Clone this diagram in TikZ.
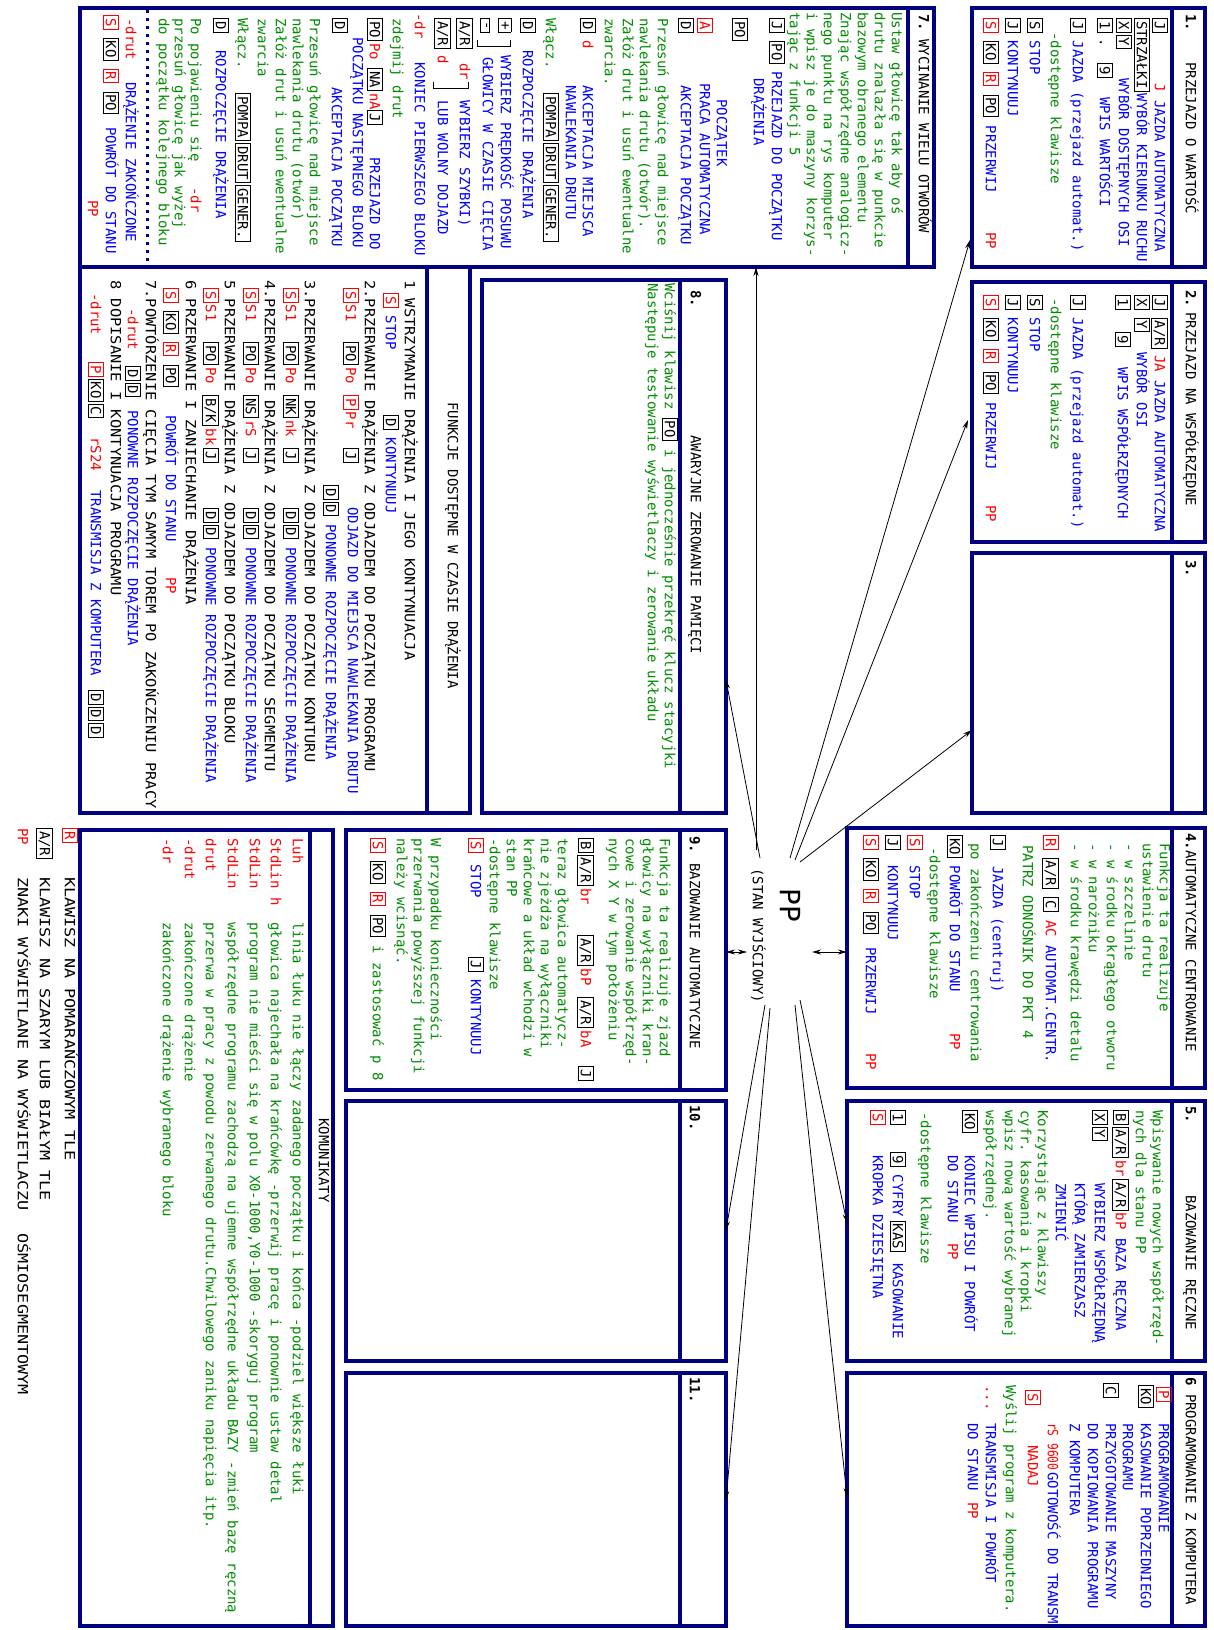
\documentclass[tikz,border=0pt]{standalone}
\usepackage{fontspec}
\setmonofont{DejaVu Sans Mono}
\newfontfamily\widemono[FakeStretch=1.1]{DejaVu Sans Mono}
\newfontfamily\widermono[FakeStretch=1.2]{DejaVu Sans Mono}
\newfontfamily\narrowmono[FakeStretch=0.8]{DejaVu Sans Mono}
\usepackage{xcolor}
\usepackage{tikz}
\usetikzlibrary{arrows.meta}

\definecolor{panelblue}{RGB}{0,0,128}
\definecolor{keyred}{RGB}{255,0,0}
\definecolor{txtblue}{RGB}{0,0,255}
\definecolor{txtgreen}{RGB}{0,140,0}

\newcommand{\keyb}[1]{{\setlength{\fboxsep}{2pt}\setlength{\fboxrule}{0.9pt}\fbox{#1}}}
\newcommand{\keyr}[1]{{\color{keyred}\setlength{\fboxsep}{2pt}\setlength{\fboxrule}{0.9pt}\fbox{#1}}}
\newcommand{\blu}[1]{\textcolor{txtblue}{#1}}
\newcommand{\grn}[1]{\textcolor{txtgreen}{#1}}
\newcommand{\rdd}[1]{\textcolor{keyred}{#1}}

\tikzset{
  panel/.style={draw=panelblue, line width=3.5pt},
  txt/.style={anchor=mid west, inner sep=0pt, font=\ttfamily\fontsize{14}{16}\selectfont},
  wtxt/.style={txt, font=\widemono\fontsize{14}{16}\selectfont},
  wwtxt/.style={txt, font=\widermono\fontsize{14}{16}\selectfont},
  ntxt/.style={txt, font=\narrowmono\fontsize{14}{16}\selectfont},
  conn/.style={-{Stealth[length=9pt,width=5pt]}, line width=0.8pt},
  dconn/.style={{Stealth[length=9pt,width=5pt]}-{Stealth[length=9pt,width=5pt]}, line width=0.8pt},
}

\begin{document}
\begin{tikzpicture}[x=1pt,y=1pt]
\useasboundingbox (0,0) rectangle (1213,-1630);
\fill[white] (0,0) rectangle (1213,-1630);
\begin{scope}[rotate=-90, transform shape]

% Panels of the right column
\foreach \ya/\yb/\xa in {8/267/972, 282/542/972, 553/813/972, 828/1088/847, 1101/1361/847, 1373/1626/847} {
  \draw[panel] (\ya,\xa) rectangle (\yb,1205);
  \draw[panel] (\ya,1172) -- (\yb,1172);
}
% Panels of the middle column
\foreach \ya/\yb/\xa in {830/1090/346, 1101/1361/346, 1373/1626/346} {
  \draw[panel] (\ya,\xa) rectangle (\yb,726);
  \draw[panel] (\ya,680) -- (\yb,680);
}
\draw[panel] (280,482) rectangle (813,726);
\draw[panel] (280,680) -- (813,680);
% Box 7 and the list of functions
\draw[panel] (8,80) rectangle (267,934);
\draw[panel] (8,908) -- (267,908);
\draw[panelblue, line width=3pt, dash pattern=on 3pt off 5pt] (10,147) -- (265,147);
\draw[panel] (267,80) rectangle (813,470);
\draw[panel] (267,427) -- (813,427);
% Messages
\draw[panel] (830,80) rectangle (1626,333);
\draw[panel] (830,310) -- (1626,310);

% ---------- 1. PRZEJAZD O WARTOSC
\node[txt] (t1n) at (14,1188) {\textbf{1.}};
\node[txt] (t1) at (62,1188) {PRZEJAZD O WARTOŚĆ};
\node[txt] (b1a) at (18,1157) {\keyb{J}};
\node[txt] (b1b) at (83,1157) {\rdd{J} \blu{JAZDA AUTOMATYCZNA}};
\node[txt] (b1c) at (18,1139) {\keyb{STRZAŁKI}\,\blu{WYBÓR KIERUNKU RUCHU}};
\node[txt] (b1d) at (18,1121) {\keyb{X}\,\keyb{Y}};
\node[txt] (b1e) at (78,1121) {\blu{WYBÓR DOSTĘPNYCH OSI}};
\node[txt] (b1f) at (18,1102) {\keyb{1}};
\node[txt] (b1g) at (38,1102) {.};
\node[txt] (b1h) at (63,1102) {\keyb{9}};
\node[txt] (b1i) at (97,1102) {\blu{WPIS WARTOŚCI}};
\node[txt] (b1j) at (18,1075) {\keyb{J} \blu{JAZDA (przejazd automat.)}};
\node[txt] (b1k) at (32,1053) {\grn{-dostępne klawisze}};
\node[txt] (b1l) at (18,1032) {\keyb{S} \blu{STOP}};
\node[txt] (b1m) at (18,1010) {\keyb{J} \blu{KONTYNUUJ}};
\node[txt] (b1n) at (18,988) {\keyr{S} \keyb{KO} \keyr{R} \keyb{PO} \blu{PRZERWIJ}};
\node[txt] (b1o) at (232,988) {\rdd{PP}};

% ---------- 2. PRZEJAZD NA WSPOLRZEDNE
\node[txt] (t2n) at (290,1188) {\textbf{2.}};
\node[txt] (t2) at (312,1188) {PRZEJAZD NA WSPÓŁRZĘDNE};
\node[txt] (b2a) at (295,1157) {\keyb{J} \keyb{A/R}};
\node[txt] (b2b) at (355,1157) {\rdd{JA} \blu{JAZDA AUTOMATYCZNA}};
\node[txt] (b2c) at (295,1139) {\keyb{X} \keyb{Y}};
\node[txt] (b2d) at (352,1139) {\blu{WYBÓR OSI}};
\node[txt] (b2e) at (295,1120) {\keyb{1}};
\node[txt] (b2f) at (332,1120) {\keyb{9}};
\node[txt] (b2g) at (367,1120) {\blu{WPIS WSPÓŁRZĘDNYCH}};
\node[txt] (b2h) at (295,1075) {\keyb{J} \blu{JAZDA (przejazd automat.)}};
\node[txt] (b2i) at (298,1053) {\grn{-dostępne klawisze}};
\node[txt] (b2j) at (295,1032) {\keyb{S} \blu{STOP}};
\node[txt] (b2k) at (295,1010) {\keyb{J} \blu{KONTYNUUJ}};
\node[txt] (b2l) at (295,988) {\keyr{S} \keyb{KO} \keyr{R} \keyb{PO} \blu{PRZERWIJ}};
\node[txt] (b2m) at (505,988) {\rdd{PP}};

% ---------- 3.
\node[txt] (t3n) at (560,1188) {\textbf{3.}};

% ---------- 4. AUTOMATYCZNE CENTROWANIE
\node[txt] (t4) at (833,1188) {\textbf{4.}AUTOMATYCZNE CENTROWANIE};
\node[txt] (b4a) at (843,1162) {\grn{Funkcja ta realizuje}};
\node[txt] (b4b) at (843,1145) {\grn{ustawienie drutu}};
\node[txt] (b4c) at (843,1127) {\grn{- w szczelinie}};
\node[txt] (b4d) at (843,1109) {\grn{- w środku okrągłego otworu}};
\node[txt] (b4e) at (843,1091) {\grn{- w narożniku}};
\node[txt] (b4f) at (843,1073) {\grn{- w środku krawędzi detalu}};
\node[txt] (b4g) at (835,1048) {\keyr{R} \keyb{A/R} \keyb{C} \rdd{AC} \blu{AUTOMAT.CENTR.}};
\node[txt] (b4h) at (845,1025) {\grn{PATRZ ODNOŚNIK DO PKT 4}};
\node[txt] (b4i) at (835,995) {\keyb{J}\hspace{17pt}\blu{JAZDA (centruj)}};
\node[txt] (b4j) at (843,973) {\grn{po zakończeniu centrowania}};
\node[txt] (b4k) at (835,952) {\keyb{KO}\hspace{8pt}\blu{POWRÓT DO STANU}};
\node[txt] (b4l) at (1033,952) {\rdd{PP}};
\node[txt] (b4m) at (847,932) {\grn{-dostępne klawisze}};
\node[txt] (b4n) at (835,912) {\keyr{S}\hspace{16pt}\blu{STOP}};
\node[txt] (b4o) at (835,890) {\keyb{J}\hspace{16pt}\blu{KONTYNUUJ}};
\node[txt] (b4p) at (835,868) {\keyr{S} \keyb{KO} \keyr{R} \keyb{PO}\hspace{13pt}\blu{PRZERWIJ}};
\node[txt] (b4q) at (1053,868) {\rdd{PP}};

% ---------- 5. BAZOWANIE RECZNE
\node[txt] (t5n) at (1106,1188) {\textbf{5.}};
\node[txt] (t5) at (1195,1188) {BAZOWANIE RĘCZNE};
\node[txt] (b5a) at (1110,1155) {\grn{Wpisywanie nowych współrzęd-}};
\node[txt] (b5b) at (1110,1138) {\grn{nych dla stanu PP}};
\node[txt] (b5c) at (1110,1118) {\keyb{B}\,\keyb{A/R}\,\rdd{br}\,\keyb{A/R}\,\rdd{bP} \blu{BAZA RĘCZNA}};
\node[txt] (b5d) at (1110,1097) {\keyb{X}\,\keyb{Y}};
\node[txt] (b5e) at (1183,1097) {\blu{WYBIERZ WSPÓŁRZĘDNĄ}};
\node[txt] (b5f) at (1183,1077) {\blu{KTÓRĄ ZAMIERZASZ}};
\node[txt] (b5g) at (1183,1058) {\blu{ZMIENIĆ}};
\node[txt] (b5h) at (1110,1040) {\grn{Korzystając z klawiszy}};
\node[txt] (b5i) at (1110,1023) {\grn{cyfr. kasowania i kropki}};
\node[txt] (b5j) at (1110,1007) {\grn{wpisz nową wartość wybranej}};
\node[txt] (b5k) at (1110,988) {\grn{współrzędnej.}};
\node[txt] (b5l) at (1110,967) {\keyb{KO}};
\node[txt] (b5m) at (1155,967) {\blu{KONIEC WPISU I POWRÓT}};
\node[txt] (b5n) at (1155,950) {\blu{DO STANU}};
\node[txt] (b5o) at (1243,950) {\rdd{PP}};
\node[txt] (b5p) at (1112,923) {\grn{-dostępne klawisze}};
\node[txt] (b5q) at (1110,895) {\keyb{1}};
\node[txt] (b5r) at (1152,895) {\keyb{9} \blu{CYFRY}\hspace{4pt}\keyb{KAS}\hspace{11pt}\blu{KASOWANIE}};
\node[txt] (b5s) at (1110,875) {\keyr{S}};
\node[txt] (b5t) at (1155,875) {\blu{KROPKA DZIESIĘTNA}};

% ---------- 6 PROGRAMOWANIE Z KOMPUTERA
\node[txt] (t6) at (1377,1188) {\textbf{6} PROGRAMOWANIE Z KOMPUTERA};
\node[txt] (b6a) at (1387,1161) {\keyr{P}};
\node[txt] (b6b) at (1423,1161) {\blu{PROGRAMOWANIE}};
\node[txt] (b6c) at (1385,1143) {\keyb{KO}};
\node[txt] (b6d) at (1423,1143) {\blu{KASOWANIE POPRZEDNIEGO}};
\node[txt] (b6e) at (1423,1125) {\blu{PROGRAMU}};
\node[txt] (b6f) at (1383,1108) {\keyb{C}};
\node[txt] (b6g) at (1423,1108) {\blu{PRZYGOTOWANIE MASZYNY}};
\node[txt] (b6h) at (1423,1090) {\blu{DO KOPIOWANIA PROGRAMU}};
\node[txt] (b6i) at (1423,1072) {\blu{Z KOMPUTERA}};
\node[ntxt] (b6j) at (1423,1050) {\rdd{rS 9600}};
\node[txt] (b6k) at (1472,1050) {\blu{GOTOWOŚĆ DO TRANSM}};
\node[txt] (b6l) at (1390,1030) {\keyr{S}};
\node[txt] (b6m) at (1445,1030) {\rdd{NADAJ}};
\node[txt] (b6n) at (1385,1008) {\grn{Wyślij program z komputera.}};
\node[txt] (b6o) at (1385,988) {\rdd{...}};
\node[txt] (b6p) at (1423,988) {\blu{TRANSMISJA I POWRÓT}};
\node[txt] (b6q) at (1423,970) {\blu{DO STANU}};
\node[txt] (b6r) at (1502,970) {\rdd{PP}};

% ---------- 7. WYCINANIE WIELU OTWOROW
\node[txt] (t7) at (14,921) {\textbf{7.} WYCINANIE WIELU OTWORÓW};
\node[txt] (b7a) at (12,894) {\grn{Ustaw głowicę tak aby oś}};
\node[txt] (b7b) at (12,877) {\grn{drutu znalazła się w punkcie}};
\node[txt] (b7c) at (12,860) {\grn{bazowym obranego elementu}};
\node[txt] (b7d) at (12,843) {\grn{Znając współrzędne analogicz-}};
\node[txt] (b7e) at (12,826) {\grn{nego punktu na rys komputer}};
\node[txt] (b7f) at (12,809) {\grn{i wpisz je do maszyny korzys-}};
\node[txt] (b7g) at (12,792) {\grn{tając z funkcji 5}};
\node[txt] (b7h) at (18,774) {\keyb{J} \keyb{PO} \blu{PRZEJAZD DO POCZĄTKU}};
\node[txt] (b7i) at (78,756) {\blu{DRĄŻENIA}};
\node[txt] (b7j) at (18,737) {\keyb{PO}};
\node[txt] (b7k) at (99,719) {\blu{POCZĄTEK}};
\node[txt] (b7l) at (18,702) {\keyr{A}};
\node[txt] (b7m) at (83,702) {\blu{PRACA AUTOMATYCZNA}};
\node[txt] (b7n) at (18,683) {\keyb{D}};
\node[txt] (b7o) at (85,683) {\blu{AKCEPTACJA POCZĄTKU}};
\node[txt] (b7p) at (18,660) {\grn{Przesuń głowicę nad miejsce}};
\node[txt] (b7q) at (18,642) {\grn{nawlekania drutu (otwór).}};
\node[txt] (b7r) at (18,625) {\grn{Załóż drut i usuń ewentualne}};
\node[txt] (b7s) at (18,607) {\grn{zwarcia.}};
\node[txt] (b7t) at (18,585) {\keyb{D} \rdd{d}};
\node[txt] (b7u) at (85,585) {\blu{AKCEPTACJA MIEJSCA}};
\node[txt] (b7v) at (85,568) {\blu{NAWLEKANIA DRUTU}};
\node[txt] (b7w) at (18,548) {\grn{Włącz.}};
\node[txt] (b7x) at (93,548) {\keyb{POMPA}\,\keyb{DRUT}\,\keyb{GENER.}};
\node[txt] (b7y) at (18,525) {\keyb{D}};
\node[txt] (b7z) at (50,525) {\blu{ROZPOCZĘCIE DRĄŻENIA}};
\node[txt] (b7aa) at (18,503) {\keyb{+}};
\node[txt] (b7ab) at (55,503) {\blu{WYBIERZ PRĘDKOŚĆ POSUWU}};
\node[txt] (b7ac) at (18,485) {\keyb{-}};
\node[txt] (b7ad) at (57,485) {\blu{GŁOWICY W CZASIE CIĘCIA}};
\draw[line width=0.8pt] (40,510) -- (46,510) -- (46,477) -- (40,477);
\node[txt] (b7ae) at (18,462) {\keyb{A/R}};
\node[txt] (b7af) at (63,462) {\rdd{dr}};
\node[txt] (b7ag) at (100,462) {\blu{WYBIERZ SZYBKI)}};
\node[txt] (b7ah) at (18,440) {\keyb{A/R}};
\node[txt] (b7ai) at (55,440) {\rdd{d}};
\node[txt] (b7aj) at (100,440) {\blu{LUB WOLNY DOJAZD}};
\draw[line width=0.8pt] (82,468) -- (88,468) -- (88,433) -- (82,433);
\node[txt] (b7ak) at (13,417) {\rdd{-dr}};
\node[txt] (b7al) at (62,417) {\blu{KONIEC PIERWSZEGO BLOKU}};
\node[txt] (b7am) at (18,395) {\grn{zdejmij drut}};
\node[txt] (b7an) at (18,372) {\keyb{PO}\,\rdd{Po} \keyb{NA}\,\rdd{nA}};
\node[txt] (b7ao) at (110,372) {\keyb{J}};
\node[txt] (b7ap) at (157,372) {\blu{PRZEJAZD DO}};
\node[txt] (b7aq) at (37,355) {\blu{POCZĄTKU NASTĘPNEGO BLOKU}};
\node[txt] (b7ar) at (18,337) {\keyb{D}};
\node[txt] (b7as) at (87,334) {\blu{AKCEPTACJA POCZĄTKU}};
\node[txt] (b7at) at (18,312) {\grn{Przesuń głowicę nad miejsce}};
\node[txt] (b7au) at (18,295) {\grn{nawlekania drutu (otwór)}};
\node[txt] (b7av) at (18,278) {\grn{Załóż drut i usuń ewentualne}};
\node[txt] (b7aw) at (18,260) {\grn{zwarcia}};
\node[txt] (b7ax) at (18,240) {\grn{Włącz.}};
\node[txt] (b7ay) at (93,240) {\keyb{POMPA}\,\keyb{DRUT}\,\keyb{GENER.}};
\node[txt] (b7az) at (18,218) {\keyb{D}};
\node[txt] (b7ba) at (50,218) {\blu{ROZPOCZĘCIE DRĄŻENIA}};
\node[txt] (b7bb) at (18,193) {\grn{Po pojawieniu się}};
\node[txt] (b7bc) at (187,193) {\rdd{-dr}};
\node[txt] (b7bd) at (18,177) {\grn{przesuń głowicę jak wyżej}};
\node[txt] (b7be) at (18,161) {\grn{do początku kolejnego bloku}};
\node[txt] (b7bf) at (18,128) {\rdd{-drut}};
\node[txt] (b7bg) at (82,128) {\blu{DRĄŻENIE ZAKOŃCZONE}};
\node[txt] (b7bh) at (15,108) {\keyr{S} \keyb{KO} \keyr{R} \keyb{PO}};
\node[txt] (b7bi) at (127,108) {\blu{POWRÓT DO STANU}};
\node[txt] (b7bj) at (200,90) {\rdd{PP}};

% ---------- Funkcje dostepne w czasie drazenia
\node[txt] (tf) at (402,450) {FUNKCJE DOSTĘPNE W CZASIE DRĄŻENIA};
\node[wtxt] (fa) at (280,407) {1 WSTRZYMANIE DRĄŻENIA I JEGO KONTYNUACJA};
\node[txt] (fb) at (293,388) {\keyr{S} \blu{STOP}};
\node[txt] (fc) at (415,388) {\keyb{D} \blu{KONTYNUUJ}};
\node[wtxt] (fd) at (280,367) {2.PRZERWANIE DRĄŻENIA Z ODJAZDEM DO POCZĄTKU PROGRAMU};
\node[txt] (fe) at (288,348) {\keyr{S}\,\rdd{S1}};
\node[txt] (ff) at (342,348) {\keyb{PO}\,\rdd{Po}};
\node[txt] (fg) at (395,348) {\keyr{P}\,\rdd{Pr}};
\node[txt] (fh) at (448,348) {\keyb{J}};
\node[txt] (fi) at (507,350) {\blu{ODJAZD DO MIEJSCA NAWLEKANIA DRUTU}};
\node[txt] (fj) at (485,328) {\keyb{D}\,\keyb{D} \blu{PONOWNE ROZPOCZĘCIE DRĄŻENIA}};
\node[wtxt] (fk) at (280,307) {3.PRZERWANIE DRĄŻENIA Z ODJAZDEM DO POCZĄTKU KONTURU};
\node[txt] (fl) at (288,288) {\keyr{S}\,\rdd{S1}};
\node[txt] (fm) at (342,288) {\keyb{PO}\,\rdd{Po}};
\node[txt] (fn) at (395,288) {\keyb{NK}\,\rdd{nk}};
\node[txt] (fo) at (448,288) {\keyb{J}};
\node[txt] (fp) at (508,288) {\keyb{D}\,\keyb{D} \blu{PONOWNE ROZPOCZĘCIE DRĄŻENIA}};
\node[wtxt] (fq) at (280,267) {4.PRZERWANIE DRĄŻENIA Z ODJAZDEM DO POCZĄTKU SEGMENTU};
\node[txt] (fr) at (288,248) {\keyr{S}\,\rdd{S1}};
\node[txt] (fs) at (342,248) {\keyb{PO}\,\rdd{Po}};
\node[txt] (ft) at (395,248) {\keyb{NS}\,\rdd{rS}};
\node[txt] (fu) at (448,248) {\keyb{J}};
\node[txt] (fv) at (508,248) {\keyb{D}\,\keyb{D} \blu{PONOWNE ROZPOCZĘCIE DRĄŻENIA}};
\node[wtxt] (fw) at (280,227) {5 PRZERWANIE DRĄŻENIA Z ODJAZDEM DO POCZĄTKU BLOKU};
\node[txt] (fx) at (288,208) {\keyr{S}\,\rdd{S1}};
\node[txt] (fy) at (342,208) {\keyb{PO}\,\rdd{Po}};
\node[txt] (fz) at (395,208) {\keyb{B/K}\,\rdd{bk}};
\node[txt] (faa) at (448,208) {\keyb{J}};
\node[txt] (fab) at (508,208) {\keyb{D}\,\keyb{D} \blu{PONOWNE ROZPOCZĘCIE DRĄŻENIA}};
\node[wtxt] (fac) at (280,188) {6 PRZERWANIE I ZANIECHANIE DRĄŻENIA};
\node[txt] (fad) at (288,168) {\keyr{S} \keyb{KO} \keyr{R} \keyb{PO}};
\node[txt] (fae) at (415,168) {\blu{POWRÓT DO STANU}};
\node[txt] (faf) at (577,168) {\rdd{PP}};
\node[wtxt] (fag) at (280,148) {7.POWTÓRZENIE CIĘCIA TYM SAMYM TOREM PO ZAKOŃCZENIU PRACY};
\node[txt] (fah) at (308,130) {\rdd{-drut}};
\node[txt] (fai) at (366,130) {\keyb{D}\,\keyb{D}};
\node[txt] (faj) at (410,130) {\blu{PONOWNE ROZPOCZĘCIE DRĄŻENIA}};
\node[wtxt] (fak) at (280,113) {8 DOPISANIE I KONTYNUACJA PROGRAMU};
\node[txt] (fal) at (293,93) {\rdd{-drut}};
\node[txt] (fam) at (362,93) {\keyr{P}\,\keyb{KO}\,\keyb{C}};
\node[txt] (fan) at (437,93) {\rdd{rS24}};
\node[txt] (fao) at (490,93) {\blu{TRANSMISJA Z KOMPUTERA}};
\node[txt] (fap) at (690,93) {\keyb{D}\,\keyb{D}\,\keyb{D}};

% ---------- 8. AWARYJNE ZEROWANIE PAMIECI
\node[txt] (t8n) at (290,693) {\textbf{8.}};
\node[txt] (t8) at (435,693) {AWARYJNE ZEROWANIE PAMIĘCI};
\node[txt] (b8a) at (283,667) {\grn{Wciśnij klawisz} \keyb{PO} \grn{i jednocześnie przekręć klucz stacyjki}};
\node[txt] (b8b) at (283,650) {\grn{Następuje testowanie wyświetlaczy i zerowanie układu}};

% ---------- 9. BAZOWANIE AUTOMATYCZNE
\node[txt] (t9n) at (836,692) {\textbf{9.}};
\node[txt] (t9) at (863,692) {BAZOWANIE AUTOMATYCZNE};
\node[txt] (b9a) at (838,662) {\grn{Funkcja ta realizuje zjazd}};
\node[txt] (b9b) at (838,645) {\grn{głowicy na wyłączniki kran-}};
\node[txt] (b9c) at (838,628) {\grn{cowe i zerowanie współrzęd-}};
\node[txt] (b9d) at (838,611) {\grn{nych X Y w tym położeniu}};
\node[txt] (b9e) at (838,583) {\keyb{B}\,\keyb{A/R}\,\rdd{br}};
\node[txt] (b9f) at (935,583) {\keyb{A/R}\,\rdd{bP}};
\node[txt] (b9g) at (997,583) {\keyb{A/R}\,\rdd{bA}};
\node[txt] (b9h) at (1066,583) {\keyb{J}};
\node[txt] (b9i) at (838,560) {\grn{teraz głowica automatycz-}};
\node[txt] (b9j) at (838,543) {\grn{nie zjeżdża na wyłączniki}};
\node[txt] (b9k) at (838,526) {\grn{krańcowe a układ wchodzi w}};
\node[txt] (b9l) at (838,509) {\grn{stan PP}};
\node[txt] (b9m) at (838,492) {\grn{-dostępne klawisze}};
\node[txt] (b9n) at (838,473) {\keyr{S}\hspace{12pt}\blu{STOP}};
\node[txt] (b9o) at (957,473) {\keyb{J} \blu{KONTYNUUJ}};
\node[txt] (b9p) at (838,433) {\grn{W przypadku konieczności}};
\node[txt] (b9q) at (838,416) {\grn{przerwania powyższej funkcji}};
\node[txt] (b9r) at (838,399) {\grn{należy wcisnąć.}};
\node[txt] (b9s) at (838,375) {\keyr{S} \keyb{KO} \keyr{R} \keyb{PO} \grn{i zastosować p 8}};

% ---------- 10. and 11.
\node[txt] (t10n) at (1105,692) {\textbf{10.}};
\node[txt] (t11n) at (1377,692) {\textbf{11.}};

% ---------- KOMUNIKATY
\node[txt] (tk) at (1118,321) {KOMUNIKATY};
\node[txt] (ka) at (838,295) {\rdd{Luh}};
\node[txt] (kb) at (922,295) {\grn{linia łuku nie łączy zadanego początku i końca -podziel większe łuki}};
\node[txt] (kc) at (838,273) {\rdd{StdLin h}};
\node[txt] (kd) at (922,273) {\grn{głowica najechała na krańcówkę -przerwij pracę i ponownie ustaw detal}};
\node[txt] (ke) at (838,252) {\rdd{StdLin}};
\node[txt] (kf) at (922,252) {\grn{program nie mieści się w polu X0-1000,Y0-1000 -skoryguj program}};
\node[txt] (kg) at (838,230) {\rdd{StdLin}};
\node[txt] (kh) at (922,230) {\grn{współrzędne programu zachodzą na ujemne współrzędne układu BAZY -zmień bazę ręczną}};
\node[txt] (ki) at (838,208) {\rdd{drut}};
\node[txt] (kj) at (922,208) {\grn{przerwa w pracy z powodu zerwanego drutu.Chwilowego zaniku napięcia itp.}};
\node[txt] (kk) at (838,187) {\rdd{-drut}};
\node[txt] (kl) at (922,187) {\grn{zakończone drążenie}};
\node[txt] (km) at (838,165) {\rdd{-dr}};
\node[txt] (kn) at (922,165) {\grn{zakończone drążenie wybranego bloku}};

% ---------- Legend
\node[txt] (la) at (828,67) {\keyr{R}};
\node[wwtxt] (lb) at (877,67) {KLAWISZ NA POMARAŃCZOWYM TLE};
\node[txt] (lc) at (828,42) {\keyb{A/R}};
\node[wwtxt] (ld) at (877,42) {KLAWISZ NA SZARYM LUB BIAŁYM TLE};
\node[txt] (le) at (828,20) {\rdd{PP}};
\node[wwtxt] (lf) at (877,20) {ZNAKI WYŚWIETLANE NA WYŚWIETLACZU};
\node[wwtxt] (lg) at (1233,20) {OŚMIOSEGMENTOWYM};

% ---------- PP (stan wyjsciowy)
\node[anchor=mid west, inner sep=0pt, font=\ttfamily\fontsize{28}{30}\selectfont] (pp) at (888,782) {PP};
\node[txt] (ppst) at (868,755) {(STAN WYJŚCIOWY)};

% Connector ends
\coordinate (s1) at (858,790);  \coordinate (e1) at (240,970);
\coordinate (s2) at (860,795);  \coordinate (e2) at (420,968);
\coordinate (s3) at (862,800);  \coordinate (e3) at (730,972);
\coordinate (s4) at (952,812);  \coordinate (e4) at (952,847);
\coordinate (s5) at (1000,800); \coordinate (e5) at (1223,847);
\coordinate (s6) at (1005,795); \coordinate (e6) at (1497,847);
\coordinate (s7) at (850,756);  \coordinate (e7) at (267,756);
\coordinate (s8) at (858,760);  \coordinate (e8) at (680,726);
\coordinate (s9) at (952,747);  \coordinate (e9) at (952,726);
\coordinate (s10) at (1005,765); \coordinate (e10) at (1230,726);
\coordinate (s11) at (1008,770); \coordinate (e11) at (1500,726);

\foreach \i in {1,2,3,5,6,7,8,10,11} {
  \draw[conn] (s\i) -- (e\i);
}
\draw[dconn] (s4) -- (e4);
\draw[dconn] (s9) -- (e9);

\end{scope}
\end{tikzpicture}
\end{document}
